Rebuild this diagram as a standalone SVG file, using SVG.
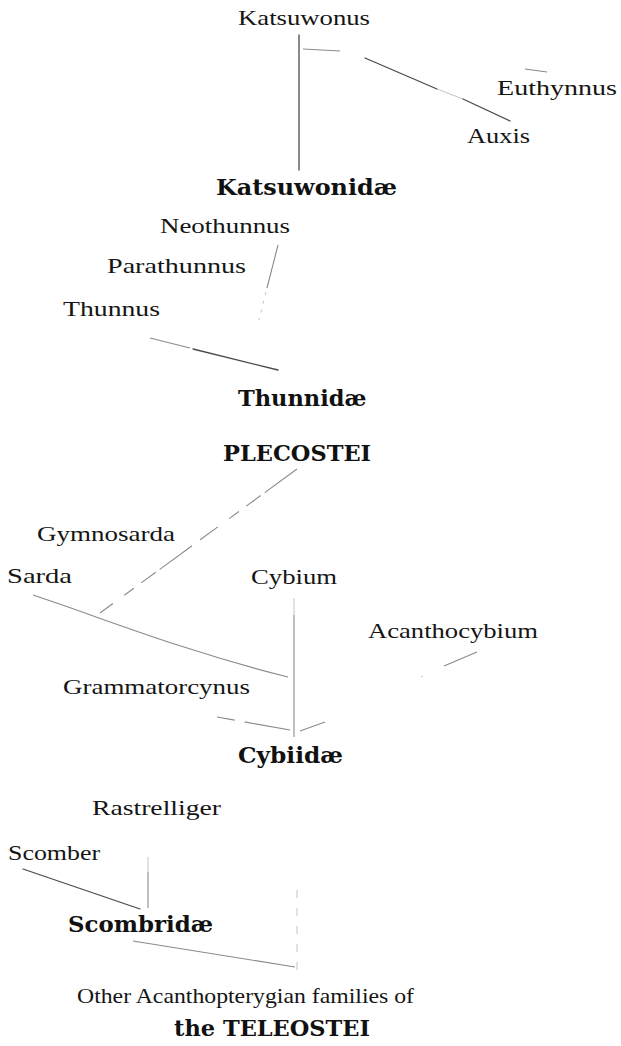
<svg xmlns="http://www.w3.org/2000/svg" width="621" height="1046" viewBox="0 0 621 1046">
<style>
.lbl{font-family:"Liberation Serif",serif;font-size:22px;fill:#151515}
.fam{font-family:"DejaVu Serif",serif;font-weight:bold;font-size:22.5px;fill:#111}
.ln{stroke:#4a4a4a;stroke-width:1.3;fill:none;stroke-linecap:round}
.lt{stroke:#8a8a8a;stroke-width:1.1;fill:none}
.fa{stroke:#c4c4c4;stroke-width:1;fill:none}
</style>
<rect width="621" height="1046" fill="#fff"/>
<g id="connectors">
<line class="ln" x1="299" y1="35" x2="299" y2="170"/>
<line class="lt" x1="303" y1="49" x2="340" y2="51"/>
<line class="ln" x1="365" y1="58" x2="437" y2="89"/>
<line class="fa" x1="437" y1="89" x2="463" y2="99"/>
<line class="ln" x1="463" y1="99" x2="510" y2="121"/>
<line class="lt" x1="525" y1="69" x2="547" y2="72"/>
<line class="lt" x1="278" y1="245" x2="267" y2="288"/>
<line class="fa" x1="266" y1="292" x2="259" y2="320" stroke-dasharray="3 6"/>
<line class="lt" x1="150" y1="338" x2="190" y2="348"/>
<line class="ln" x1="193" y1="349" x2="278" y2="370"/>
<line class="lt" x1="297" y1="469" x2="100" y2="613" stroke-dasharray="40 5 18 9 12 14 22 10"/>
<path class="lt" d="M33,595 C100,617 180,650 288,677"/>
<line class="fa" x1="294" y1="598" x2="294" y2="615"/>
<line class="lt" x1="294" y1="615" x2="294" y2="737"/>
<line class="lt" x1="217" y1="717" x2="290" y2="730" stroke-dasharray="18 10 50"/>
<line class="lt" x1="477" y1="652" x2="444" y2="666"/>
<line class="fa" x1="423" y1="676" x2="421" y2="677"/>
<line class="lt" x1="325" y1="722" x2="300" y2="731"/>
<line class="fa" x1="148" y1="857" x2="148" y2="872"/>
<line class="lt" x1="148" y1="872" x2="148" y2="908"/>
<line class="ln" x1="23" y1="869" x2="140" y2="909"/>
<line class="lt" x1="133" y1="941" x2="295" y2="967"/>
<line class="fa" x1="297" y1="890" x2="297" y2="980" stroke-dasharray="8 10"/>
</g>
<g id="n-katsuwonus"><text class="lbl" x="238" y="25" textLength="132" lengthAdjust="spacingAndGlyphs">Katsuwonus</text></g>
<g id="n-euthynnus"><text class="lbl" x="497" y="95" textLength="120" lengthAdjust="spacingAndGlyphs">Euthynnus</text></g>
<g id="n-auxis"><text class="lbl" x="467" y="143" textLength="63" lengthAdjust="spacingAndGlyphs">Auxis</text></g>
<g id="n-katsuwonidae"><text class="fam" x="216" y="195" textLength="181" lengthAdjust="spacingAndGlyphs">Katsuwonidæ</text></g>
<g id="n-neothunnus"><text class="lbl" x="160" y="233" textLength="130" lengthAdjust="spacingAndGlyphs">Neothunnus</text></g>
<g id="n-parathunnus"><text class="lbl" x="107" y="273" textLength="139" lengthAdjust="spacingAndGlyphs">Parathunnus</text></g>
<g id="n-thunnus"><text class="lbl" x="63" y="316" textLength="97" lengthAdjust="spacingAndGlyphs">Thunnus</text></g>
<g id="n-thunnidae"><text class="fam" x="238" y="406">Thunnidæ</text></g>
<g id="n-plecostei"><text class="fam" x="223" y="461">PLECOSTEI</text></g>
<g id="n-gymnosarda"><text class="lbl" x="37" y="541" textLength="138" lengthAdjust="spacingAndGlyphs">Gymnosarda</text></g>
<g id="n-sarda"><text class="lbl" x="7" y="583" textLength="65" lengthAdjust="spacingAndGlyphs">Sarda</text></g>
<g id="n-cybium"><text class="lbl" x="251" y="584" textLength="86" lengthAdjust="spacingAndGlyphs">Cybium</text></g>
<g id="n-acanthocybium"><text class="lbl" x="368" y="638" textLength="170" lengthAdjust="spacingAndGlyphs">Acanthocybium</text></g>
<g id="n-grammatorcynus"><text class="lbl" x="63" y="694" textLength="187" lengthAdjust="spacingAndGlyphs">Grammatorcynus</text></g>
<g id="n-cybiidae"><text class="fam" x="238" y="763" textLength="105" lengthAdjust="spacingAndGlyphs">Cybiidæ</text></g>
<g id="n-rastrelliger"><text class="lbl" x="92" y="815" textLength="129" lengthAdjust="spacingAndGlyphs">Rastrelliger</text></g>
<g id="n-scomber"><text class="lbl" x="8" y="860" textLength="92" lengthAdjust="spacingAndGlyphs">Scomber</text></g>
<g id="n-scombridae"><text class="fam" x="68" y="932" textLength="145" lengthAdjust="spacingAndGlyphs">Scombridæ</text></g>
<g id="n-teleostei">
<text class="lbl" x="77" y="1003" textLength="337" lengthAdjust="spacingAndGlyphs">Other Acanthopterygian families of</text>
<text class="fam" x="174" y="1036">the TELEOSTEI</text>
</g>
</svg>
